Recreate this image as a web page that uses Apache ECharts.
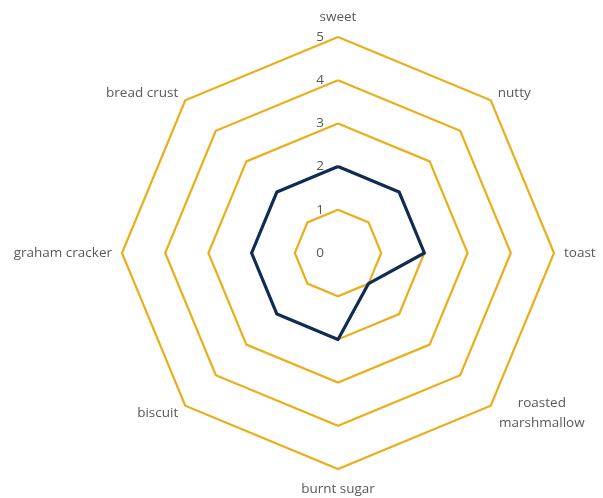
<!DOCTYPE html>
<html><head><meta charset="utf-8">
<script src="https://cdn.jsdelivr.net/npm/echarts@6/dist/echarts.min.js"></script>
<style>html,body{margin:0;padding:0;background:#fff}#c{width:603px;height:498px}</style>
</head><body><div id="c"></div>
<script>
// indicators in counter-clockwise order starting at top
const categories = ['sweet', 'bread crust', 'graham cracker', 'biscuit', 'burnt sugar', 'roasted\nmarshmallow', 'toast', 'nutty'];
const values = [2, 2, 2, 2, 2, 1, 2, 2];
const maxValue = 5;

const chart = echarts.init(document.getElementById('c'));
chart.setOption({
  animation: false,
  textStyle: { fontFamily: 'Open Sans' },
  radar: {
    center: [338, 253],
    radius: 216,
    startAngle: 90,
    shape: 'polygon',
    splitNumber: 5,
    indicator: categories.map((n, i) => ({
      name: n, min: 0, max: maxValue,
      axisLabel: { show: i === 0 }
    })),
    axisName: {
      color: '#595959', fontSize: 13.5, fontFamily: 'Open Sans', lineHeight: 20,
      formatter: function (n) {
        if (n.indexOf('\n') >= 0) {
          return n.split('\n').map(s => '{c|' + s + '}').join('\n');
        }
        return n;
      },
      rich: { c: { width: 88, align: 'center', color: '#595959', fontSize: 13.5, fontFamily: 'Open Sans', lineHeight: 20 } }
    },
    nameGap: 10,
    axisLine: { show: false },
    axisTick: { show: false },
    axisLabel: { show: false, color: '#595959', fontSize: 13.5, fontFamily: 'Open Sans', margin: 14 },
    splitLine: { lineStyle: { color: '#EBAE1A', width: 2.2 } },
    splitArea: { show: false }
  },
  series: [{
    type: 'radar',
    symbol: 'none',
    lineStyle: { color: '#0E2C55', width: 3.2 },
    data: [{ value: values }]
  }]
});
</script></body></html>
